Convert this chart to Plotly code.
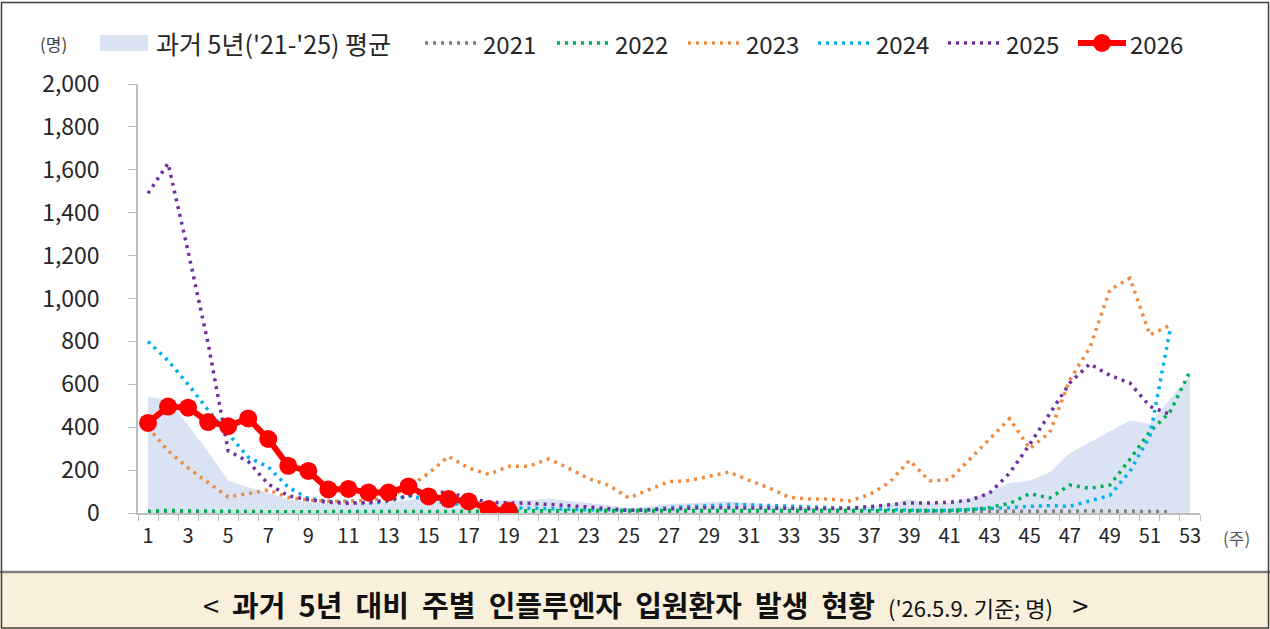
import plotly.graph_objects as go

weeks = list(range(1, 54))

avg_5yr = [541, 529, 409, 285, 150, 120, 94, 62, 50, 45,
           45, 45, 50, 60, 71, 83, 66, 54, 61, 60,
           66, 56, 44, 36, 22, 32, 42, 45, 50, 55,
           47, 39, 29, 26, 25, 23, 30, 43, 64, 44,
           47, 69, 98, 140, 150, 190, 279, 329, 381, 431,
           415, 532, 640]

y2021 = [5, 5, 5, 5, 5, 5, 5, 5, 5, 5,
         5, 5, 5, 5, 5, 5, 5, 5, 5, 5,
         5, 5, 5, 5, 5, 5, 5, 5, 5, 5,
         5, 5, 5, 5, 5, 5, 5, 5, 5, 5,
         5, 5, 5, 6, 8, 8, 8, 10, 10, 8,
         8, 6, None]

y2022 = [8, 12, 10, 8, 8, 6, 6, 6, 6, 6,
         6, 6, 6, 6, 6, 5, 5, 5, 8, 10,
         12, 12, 12, 12, 12, 15, 15, 15, 15, 15,
         15, 15, 15, 15, 12, 12, 10, 10, 10, 10,
         12, 15, 25, 45, 90, 70, 130, 115, 130, 250,
         380, 470, 660]

y2023 = [400, 290, 210, 140, 75, 90, 108, 72, 60, 55,
         55, 60, 70, 120, 185, 264, 210, 180, 218, 218,
         252, 208, 160, 129, 70, 109, 146, 151, 171, 191,
         152, 117, 73, 65, 65, 56, 85, 143, 245, 150,
         155, 250, 345, 440, 300, 375, 620, 770, 1040, 1095,
         830, 875, None]

y2024 = [800, 710, 600, 480, 370, 260, 215, 120, 68, 55,
         50, 45, 55, 80, 60, 45, 40, 30, 25, 22,
         20, 18, 15, 15, 12, 15, 25, 30, 35, 38,
         38, 35, 30, 25, 22, 20, 18, 15, 12, 10,
         12, 15, 20, 25, 31, 34, 31, 57, 82, 194,
         360, 850, None]

y2025 = [1490, 1630, 1220, 790, 290, 240, 135, 80, 62, 50,
         45, 50, 60, 80, 100, 95, 70, 50, 48, 45,
         40, 35, 28, 20, 12, 15, 20, 22, 25, 25,
         25, 25, 22, 20, 20, 22, 30, 40, 47, 47,
         50, 59, 93, 186, 320, 463, 606, 695, 642, 606,
         497, 460, None]

weeks_2026 = list(range(1, 20))
y2026 = [420, 496, 491, 424, 405, 441, 345, 220, 196, 110,
         112, 96, 96, 124, 77, 65, 54, 19, 11]

x_ticks = list(range(1, 54, 2))
y_ticks = list(range(0, 2001, 200))

AREA_NAME = "과거 5년('21-'25) 평균"
series = [
    ("2021", y2021, "#7F7F7F"),
    ("2022", y2022, "#00B050"),
    ("2023", y2023, "#F08A3E"),
    ("2024", y2024, "#00B0F0"),
    ("2025", y2025, "#7030A0"),
]
AREA_COLOR = "#D9E3F3"
RED = "#FF0000"
FONT = "Noto Sans CJK KR"
TXT = "#262626"
AXIS = "#BFBFBF"
DOT = "3px,5px"

W, H = 1270, 629
ML, MR, MT, MB = 138, 70, 84, 116
PW, PH = W - ML - MR, H - MT - MB


def px(x):
    return (x - ML) / PW


def py(y):
    return (H - MB - y) / PH


def note(x, y, text, size, color=TXT, anchor="left"):
    return dict(x=px(x), y=py(y), xref="paper", yref="paper", text=text,
                showarrow=False, xanchor=anchor, yanchor="middle",
                font=dict(size=size, color=color, family=FONT))


fig = go.Figure()
fig.add_trace(go.Scatter(x=weeks, y=avg_5yr, name=AREA_NAME, mode="lines",
                         line=dict(width=0, color=AREA_COLOR), fill="tozeroy",
                         fillcolor=AREA_COLOR, showlegend=False, hoverinfo="skip"))
for name, vals, col in series:
    fig.add_trace(go.Scatter(x=weeks, y=vals, name=name, mode="lines",
                             line=dict(color=col, width=3.5, dash=DOT),
                             showlegend=False))
fig.add_trace(go.Scatter(x=weeks_2026, y=y2026, name="2026", mode="lines+markers",
                         line=dict(color=RED, width=6),
                         marker=dict(color=RED, size=18), showlegend=False))

shapes = []
annotations = []

# caption box
shapes.append(dict(type="rect", xref="paper", yref="paper", x0=px(-5), x1=px(W + 5),
                   y0=py(H + 5), y1=py(572), fillcolor="#F8F0DA",
                   line=dict(width=0), layer="below"))
shapes.append(dict(type="line", xref="paper", yref="paper", x0=px(0), x1=px(W),
                   y0=py(572), y1=py(572), line=dict(color="#7F7F7F", width=2.5)))
# outer border
shapes.append(dict(type="rect", xref="paper", yref="paper", x0=px(1.5), x1=px(W - 1.5),
                   y0=py(H - 1), y1=py(2.5), line=dict(color="#404040", width=1.5)))

# custom legend
LY = 43
LF = 24
shapes.append(dict(type="rect", xref="paper", yref="paper", x0=px(100), x1=px(148),
                   y0=py(LY + 8), y1=py(LY - 8), fillcolor=AREA_COLOR, line=dict(width=0)))
annotations.append(note(154, LY, AREA_NAME, 25))
leg_x = [425, 557, 688, 818, 948]
for (name, vals, col), lx in zip(series, leg_x):
    shapes.append(dict(type="line", xref="paper", yref="paper", x0=px(lx), x1=px(lx + 52),
                       y0=py(LY), y1=py(LY), line=dict(color=col, width=3.5, dash=DOT)))
    annotations.append(note(lx + 56, LY, name, LF))
shapes.append(dict(type="line", xref="paper", yref="paper", x0=px(1078), x1=px(1126),
                   y0=py(LY), y1=py(LY), line=dict(color=RED, width=6)))
shapes.append(dict(type="circle", xref="paper", yref="paper", x0=px(1093), x1=px(1111),
                   y0=py(LY + 9), y1=py(LY - 9), fillcolor=RED, line=dict(width=0)))
annotations.append(note(1128, LY, "2026", LF))

annotations.append(note(53, LY, "(명)", 17, "#404040", "center"))
annotations.append(note(1236, 537, "(주)", 17, "#595959", "center"))

# caption
caption = ("&lt;&nbsp;&nbsp;<b>과거&nbsp;&nbsp;5년&nbsp;&nbsp;대비&nbsp;&nbsp;주별&nbsp;&nbsp;인플루엔자"
           "&nbsp;&nbsp;입원환자&nbsp;&nbsp;발생&nbsp;&nbsp;현황</b>&nbsp;&nbsp;"
           "<span style='font-size:22px'>('26.5.9. 기준; 명)</span>&nbsp;&nbsp;&nbsp;&gt;")
annotations.append(note(645, 604, caption, 29, "#111111", "center"))

fig.update_layout(
    width=W, height=H,
    margin=dict(l=ML, r=MR, t=MT, b=MB),
    paper_bgcolor="white", plot_bgcolor="white",
    showlegend=False,
    shapes=shapes, annotations=annotations,
    font=dict(family=FONT, color=TXT),
    xaxis=dict(range=[0.5, 53.5], tickmode="array", tickvals=x_ticks,
               ticktext=[str(v) for v in x_ticks], ticks="", showgrid=False,
               zeroline=False, showline=True, linecolor=AXIS, linewidth=1.5,
               ticklabelstandoff=4,
               tickfont=dict(size=20, color=TXT, family=FONT),
               minor=dict(tick0=0.5, dtick=1, ticks="outside", ticklen=6,
                          tickcolor=AXIS, tickwidth=1.2, showgrid=False)),
    yaxis=dict(range=[0, 2000], tickmode="array", tickvals=y_ticks,
               ticktext=[f"{v:,}" for v in y_ticks], ticks="outside", ticklen=8,
               tickcolor=AXIS, tickwidth=1.2, showgrid=False, zeroline=False,
               showline=True, linecolor=AXIS, linewidth=1.5,
               ticklabelstandoff=24,
               tickfont=dict(size=23, color=TXT, family=FONT)),
)

fig.write_html("out.html", config={"displayModeBar": False},
               post_script="document.body.style.margin='0px';")
